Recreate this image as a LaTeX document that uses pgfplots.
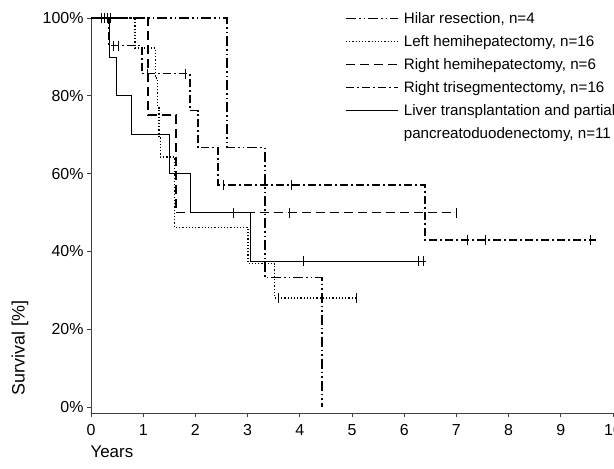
\documentclass[border=0pt]{standalone}
\usepackage{pgfplots}
\pgfplotsset{compat=1.18}
\usepackage{fontspec}
\setmainfont{Liberation Sans}
\begin{document}
\begin{tikzpicture}[x=1bp,y=1bp]
\path[use as bounding box] (0,0) rectangle (614,469);
\begin{axis}[
  at={(91bp,56bp)}, anchor=south west, scale only axis,
  width=522bp, height=395bp,
  xmin=0, xmax=10, ymin=-1.5, ymax=100,
  axis x line*=bottom, axis y line*=left,
  axis line style={-, line width=0.7bp, black!75},
  xtick={0,1,...,10}, ytick={0,20,...,100},
  tick align=outside, major tick length=4bp,
  tick style={line width=0.7bp, black!75},
  yticklabel={\pgfmathprintnumber{\tick}\%},
  ticklabel style={font=\fontsize{16}{19}\selectfont},
  xticklabel style={yshift=-4bp},
  /pgf/number format/assume math mode=true,
  xlabel={Years}, ylabel={Survival [\%]},
  every axis x label/.style={at={(axis description cs:0,0)}, anchor=west, yshift=-39bp, xshift=-4bp, font=\fontsize{17}{20}\selectfont},
  every axis y label/.style={at={(axis description cs:-0.136,0.165)}, rotate=90, anchor=center, font=\fontsize{18}{21}\selectfont},
  clip=false,
  legend style={at={(0.4866,1.02)}, anchor=north west, draw=none, fill=none,
    inner sep=0pt, row sep=6.6bp, column sep=3bp, font=\fontsize{15.2}{18}\selectfont},
  legend cell align=left,
  legend image code/.code={\draw[#1] (0bp,0bp) -- (52bp,0bp);},
]
% Hilar resection
\addplot[black, line width=1.6bp, dash pattern=on 10bp off 3bp on 1.5bp off 3bp on 1.5bp off 3bp]
 coordinates {(0,100) (2.60,100) (2.60,66.7) (3.33,66.7) (3.33,33.3) (4.43,33.3) (4.43,0)};
\addlegendentry{Hilar resection, n=4}
% Left hemihepatectomy
\addplot[black, line width=1.4bp, dash pattern=on 1.2bp off 2bp]
 coordinates {(0,100) (0.84,100) (0.84,92.3) (1.23,92.3) (1.23,84.6) (1.27,84.6) (1.27,76.9) (1.30,76.9) (1.30,69.2) (1.33,69.2) (1.33,64.3) (1.60,64.3) (1.60,46.2) (3.01,46.2) (3.01,36.9) (3.52,36.9) (3.52,28.0) (5.10,28.0)};
\addlegendentry{Left hemihepatectomy, n=16}
% Right hemihepatectomy
\addplot[black, line width=1.7bp, dash pattern=on 9bp off 5bp]
 coordinates {(0,100) (1.09,100) (1.09,75) (1.63,75) (1.63,50) (7.02,50)};
\addlegendentry{Right hemihepatectomy, n=6}
% Right trisegmentectomy
\addplot[black, line width=1.6bp, dash pattern=on 8bp off 3bp on 2bp off 3bp]
 coordinates {(0,100) (0.35,100) (0.35,92.9) (0.98,92.9) (0.98,85.7) (1.90,85.7) (1.90,76.2) (2.05,76.2) (2.05,66.7) (2.43,66.7) (2.43,57.1) (6.40,57.1) (6.40,42.9) (9.68,42.9)};
\addlegendentry{Right trisegmentectomy, n=16}
% Liver transplantation
\addplot[black, line width=0.8bp]
 coordinates {(0,100) (0.35,100) (0.35,90) (0.48,90) (0.48,80) (0.78,80) (0.78,70) (1.50,70) (1.50,60) (1.90,60) (1.90,50) (3.05,50) (3.05,37.5) (6.42,37.5)};
\addlegendentry{Liver transplantation and partial}
\addlegendimage{empty legend}
\addlegendentry{pancreatoduodenectomy, n=11}
% censor marks
\addplot[forget plot, only marks, mark=|, mark size=5bp, mark options={solid, line width=0.7bp}]
 coordinates {(0.19,100) (0.25,100) (0.31,100) (0.37,100)
 (0.43,92.9) (0.52,92.9) (1.07,85.7) (1.80,85.7) (2.53,57.1) (3.83,57.1) (7.20,42.9) (7.55,42.9) (9.56,42.9)
 (2.72,50) (3.80,50) (7.00,50)
 (4.06,37.5) (6.28,37.5) (6.36,37.5)
 (3.58,28.0) (4.44,28.0) (5.08,28.0)};
\end{axis}
\end{tikzpicture}
\end{document}
